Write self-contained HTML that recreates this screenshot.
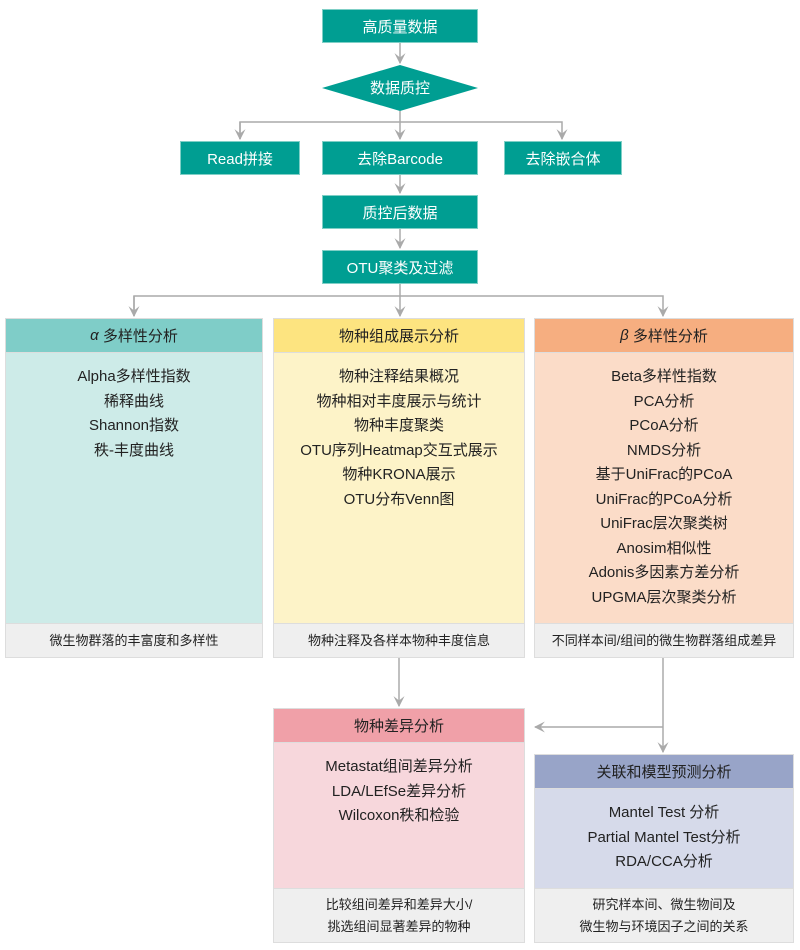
<!DOCTYPE html>
<html><head><meta charset="utf-8"><style>
body{margin:0;width:800px;height:950px;background:#fff;position:relative;font-family:"Liberation Sans","Noto Sans CJK SC",sans-serif;overflow:hidden}
.b{position:absolute;box-sizing:border-box;display:flex;align-items:center;justify-content:center;text-align:center}
.t{background:#009e92;color:#fff;font-size:15px;border:1px solid #7fcfc6}
.h{font-size:15px;color:#222;border:1px solid #ddd}
.bd{font-size:15px;color:#222;align-items:flex-start;line-height:24.5px;padding-top:12px;border:1px solid #ddd;border-top:none}
.f{font-size:13px;color:#222;background:#efefef;border:1px solid #ddd;border-top:none;line-height:22px}
svg{position:absolute;left:0;top:0}
</style></head><body>
<svg width="800" height="950">
<defs><marker id="a" markerWidth="10" markerHeight="10" refX="5" refY="9" orient="auto" markerUnits="userSpaceOnUse"><path d="M0,0 L5,9 L10,0 L5,4 Z" fill="#aaa" transform="rotate(-90 5 5)"/></marker>
<marker id="d" viewBox="0 0 10 10" markerWidth="11" markerHeight="11" refX="9" refY="5" orient="auto" markerUnits="userSpaceOnUse"><path d="M0,0 L10,5 L0,10 L4,5 Z" fill="#aaa"/></marker></defs>
<g stroke="#aaa" stroke-width="1.5" fill="none">
<line x1="400" y1="43" x2="400" y2="63" marker-end="url(#d)"/>
<line x1="400" y1="111" x2="400" y2="139" marker-end="url(#d)"/>
<polyline points="240,139 240,122 562,122 562,139" marker-end="url(#d)"/>
<line x1="240" y1="122" x2="240" y2="139" marker-end="url(#d)"/>
<line x1="400" y1="175" x2="400" y2="193" marker-end="url(#d)"/>
<line x1="400" y1="229" x2="400" y2="248" marker-end="url(#d)"/>
<line x1="400" y1="284" x2="400" y2="316" marker-end="url(#d)"/>
<polyline points="134,316 134,296 663,296 663,316" marker-end="url(#d)"/>
<line x1="134" y1="296" x2="134" y2="316" marker-end="url(#d)"/>
<line x1="399" y1="657" x2="399" y2="706" marker-end="url(#d)"/>
<line x1="663" y1="657" x2="663" y2="752" marker-end="url(#d)"/>
<line x1="663" y1="727" x2="535" y2="727" marker-end="url(#d)"/>
</g>
<polygon points="400,65 478,88 400,111 322,88" fill="#009e92"/>
<text x="400" y="93" fill="#fff" font-size="15" text-anchor="middle" font-family="Liberation Sans,Noto Sans CJK SC,sans-serif">数据质控</text>
</svg>
<div class="b t" style="left:322px;top:9px;width:156px;height:34px">高质量数据</div>
<div class="b t" style="left:180px;top:141px;width:120px;height:34px">Read拼接</div>
<div class="b t" style="left:322px;top:141px;width:156px;height:34px">去除Barcode</div>
<div class="b t" style="left:504px;top:141px;width:118px;height:34px">去除嵌合体</div>
<div class="b t" style="left:322px;top:195px;width:156px;height:34px">质控后数据</div>
<div class="b t" style="left:322px;top:250px;width:156px;height:34px">OTU聚类及过滤</div>

<div class="b h" style="left:5px;top:318px;width:258px;height:35px;background:#7fcdc8"><i>α</i>&nbsp;多样性分析</div>
<div class="b bd" style="left:5px;top:353px;width:258px;height:271px;background:#cdebe8">Alpha多样性指数<br>稀释曲线<br>Shannon指数<br>秩-丰度曲线</div>
<div class="b f" style="left:5px;top:624px;width:258px;height:34px">微生物群落的丰富度和多样性</div>

<div class="b h" style="left:273px;top:318px;width:252px;height:35px;background:#fde480">物种组成展示分析</div>
<div class="b bd" style="left:273px;top:353px;width:252px;height:271px;background:#fdf3c8">物种注释结果概况<br>物种相对丰度展示与统计<br>物种丰度聚类<br>OTU序列Heatmap交互式展示<br>物种KRONA展示<br>OTU分布Venn图</div>
<div class="b f" style="left:273px;top:624px;width:252px;height:34px">物种注释及各样本物种丰度信息</div>

<div class="b h" style="left:534px;top:318px;width:260px;height:35px;background:#f6ae80"><i>β</i>&nbsp;多样性分析</div>
<div class="b bd" style="left:534px;top:353px;width:260px;height:271px;background:#fbdcc8">Beta多样性指数<br>PCA分析<br>PCoA分析<br>NMDS分析<br>基于UniFrac的PCoA<br>UniFrac的PCoA分析<br>UniFrac层次聚类树<br>Anosim相似性<br>Adonis多因素方差分析<br>UPGMA层次聚类分析</div>
<div class="b f" style="left:534px;top:624px;width:260px;height:34px">不同样本间/组间的微生物群落组成差异</div>

<div class="b h" style="left:273px;top:708px;width:252px;height:35px;background:#f0a0a8">物种差异分析</div>
<div class="b bd" style="left:273px;top:743px;width:252px;height:146px;background:#f7d7dc">Metastat组间差异分析<br>LDA/LEfSe差异分析<br>Wilcoxon秩和检验</div>
<div class="b f" style="left:273px;top:889px;width:252px;height:54px">比较组间差异和差异大小/<br>挑选组间显著差异的物种</div>

<div class="b h" style="left:534px;top:754px;width:260px;height:35px;background:#98a4c8">关联和模型预测分析</div>
<div class="b bd" style="left:534px;top:789px;width:260px;height:100px;background:#d6daea">Mantel Test 分析<br>Partial Mantel Test分析<br>RDA/CCA分析</div>
<div class="b f" style="left:534px;top:889px;width:260px;height:54px">研究样本间、微生物间及<br>微生物与环境因子之间的关系</div>
</body></html>
